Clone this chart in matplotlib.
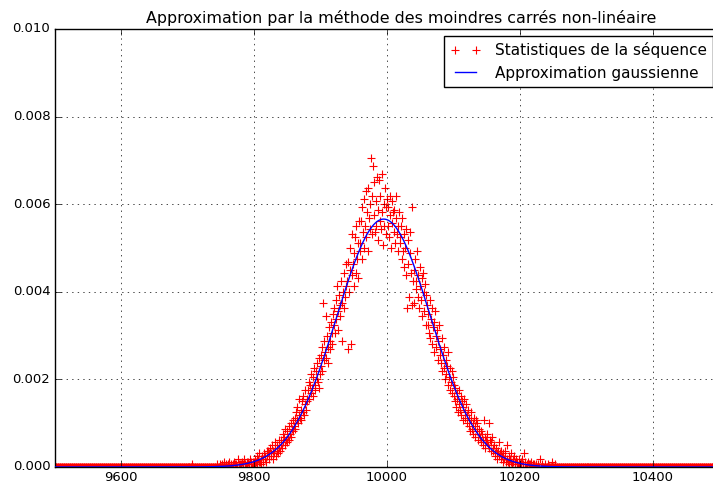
import numpy as np
import matplotlib
matplotlib.use("Agg")
import matplotlib.pyplot as plt
from matplotlib.lines import Line2D
from matplotlib.ticker import FormatStrFormatter, ScalarFormatter

plt.style.use("classic")
plt.rcParams["font.size"] = 9.5

# sequence statistics: occurrences of each value over n_trials draws
n_trials = 16000
x_min, x_max = 9500, 10500
x_core_start = 9740
isolated_x, isolated_count = 9707, 1

core_counts = [
    0, 0, 0, 0, 1, 0, 0, 0, 0, 1, 0, 0, 1, 0, 0, 2, 0, 0, 1, 0,
    0, 1, 0, 2, 0, 1, 0, 0, 1, 0, 2, 0, 1, 1, 0, 0, 3, 1, 0, 1,
    1, 0, 2, 1, 0, 3, 1, 1, 0, 2, 1, 2, 0, 1, 3, 2, 1, 0, 2, 1,
    2, 3, 1, 2, 4, 1, 3, 2, 5, 2, 3, 1, 4, 3, 2, 5, 3, 4, 2, 6,
    4, 6, 3, 5, 7, 4, 5, 8, 3, 6, 5, 7, 9, 4, 6, 8, 5, 7, 10, 6,
    8, 10, 7, 12, 9, 11, 8, 14, 10, 9, 13, 11, 15, 10, 12, 16, 11, 14, 13, 17,
    15, 18, 14, 20, 17, 22, 16, 19, 25, 18, 21, 17, 24, 20, 26, 19, 23, 28, 21, 25,
    24, 28, 31, 25, 30, 27, 34, 29, 26, 33, 36, 30, 28, 35, 32, 38, 31, 29, 40, 34,
    37, 41, 35, 44, 60, 39, 46, 42, 55, 40, 48, 44, 38, 51, 46, 43, 53, 49, 45, 56,
    52, 58, 49, 61, 54, 66, 50, 57, 63, 59, 55, 68, 60, 46, 64, 71, 58, 62, 74, 66,
    68, 43, 75, 64, 72, 80, 45, 70, 85, 74, 66, 78, 84, 71, 88, 76, 69, 82, 90, 79,
    82, 90, 76, 95, 86, 80, 98, 88, 101, 84, 93, 79, 102, 91, 87, 96, 113, 85, 99, 110,
    92, 104, 86, 97, 88, 106, 94, 83, 105, 99, 90, 87, 107, 93, 81, 96, 88, 102, 85, 95,
    98, 88, 95, 84, 99, 92, 80, 97, 89, 93, 86, 94, 82, 91, 99, 85, 88, 79, 93, 84,
    82, 88, 76, 91, 79, 85, 73, 80, 87, 70, 58, 83, 74, 62, 78, 86, 71, 59, 95, 68,
    72, 60, 76, 68, 65, 79, 62, 70, 58, 73, 66, 61, 69, 55, 71, 64, 57, 67, 52, 63,
    59, 52, 56, 49, 61, 47, 54, 58, 45, 51, 53, 42, 57, 48, 44, 50, 39, 46, 52, 41,
    43, 38, 47, 35, 41, 36, 44, 32, 39, 34, 37, 30, 42, 33, 28, 36, 31, 35, 27, 33,
    30, 26, 24, 29, 22, 27, 25, 20, 28, 23, 21, 26, 19, 24, 22, 17, 25, 20, 18, 23,
    19, 16, 21, 15, 18, 13, 17, 20, 14, 16, 12, 18, 15, 11, 17, 13, 16, 10, 14, 12,
    11, 13, 9, 12, 10, 8, 17, 11, 7, 10, 9, 12, 8, 16, 7, 10, 6, 9, 11, 7,
    6, 8, 5, 4, 7, 5, 3, 6, 9, 4, 5, 3, 6, 4, 2, 5, 3, 4, 6, 2,
    8, 3, 2, 4, 1, 3, 5, 2, 1, 3, 2, 4, 1, 2, 3, 1, 2, 0, 3, 1,
    1, 2, 0, 3, 1, 0, 5, 1, 2, 0, 1, 0, 2, 1, 0, 1, 0, 2, 0, 1,
    0, 1, 0, 0, 1, 0, 0, 1, 0, 0, 3, 0, 0, 1, 0, 0, 0, 1, 0, 0,
    0, 0, 1, 0, 0, 0, 0, 0, 2, 0, 0, 0, 0, 1, 0, 0, 0, 0, 0, 0,
]

# fitted gaussian parameters
fit_amplitude = 0.00566
fit_mean = 9995.0
fit_sigma = 70.5

x = np.arange(x_min, x_max + 1)
counts = np.zeros(x.size)
i0 = x_core_start - x_min
counts[i0:i0 + len(core_counts)] = core_counts
counts[isolated_x - x_min] = isolated_count
freq = counts / n_trials

fit = fit_amplitude * np.exp(-(x - fit_mean) ** 2 / (2 * fit_sigma ** 2))

fig = plt.figure(figsize=(7.13, 4.84), dpi=100, facecolor="white")
ax = fig.add_axes([54.5 / 713, 17 / 484, 665 / 713, 438 / 484])

ax.scatter(x, freq, marker="+", s=40, c="red", linewidths=0.8, zorder=2)
ax.plot(x, fit, color="blue", linewidth=1, zorder=3)

ax.set_xlim(x_min, x_max)
ax.set_ylim(0, 0.010)
ax.set_xticks([9600, 9800, 10000, 10200, 10400])
ax.set_yticks(np.arange(0, 0.0101, 0.002))
ax.xaxis.set_major_formatter(ScalarFormatter(useOffset=False))
ax.yaxis.set_major_formatter(FormatStrFormatter("%.3f"))
ax.tick_params(pad=3)
ax.grid(True)
ax.set_title("Approximation par la méthode des moindres carrés non-linéaire",
             x=0.522, y=0.997)

handles = [
    Line2D([], [], linestyle="none", marker="+", color="red",
           markeredgecolor="red", markersize=6, markeredgewidth=0.8),
    Line2D([], [], color="blue", linewidth=1),
]
labels = ["Statistiques de la séquence", "Approximation gaussienne"]
ax.legend(handles, labels, loc="upper right", borderaxespad=0.45, fontsize=11,
          handlelength=2.0, handletextpad=0.9)

fig.savefig("out.png", dpi=100, facecolor="white")
